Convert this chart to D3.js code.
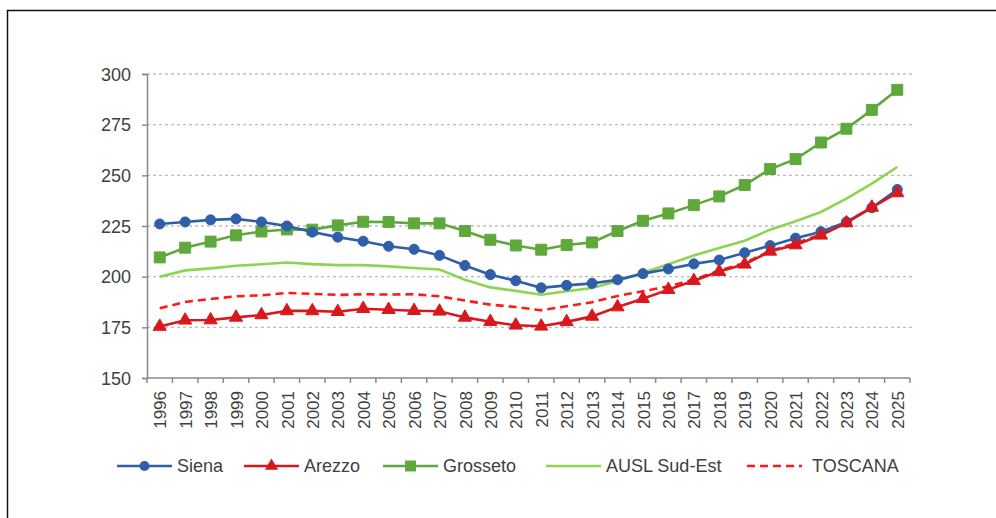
<!DOCTYPE html>
<html>
<head>
<meta charset="utf-8">
<script src="https://cdn.jsdelivr.net/npm/d3@7"></script>
<style>
  body { margin: 0; background: #fff; }
  svg { font-family: "Liberation Sans", Arial, sans-serif; }
</style>
</head>
<body>
<div id="chart"></div>
<script>
const FRAME_WIDTH = 996;
const FRAME_HEIGHT = 518;
const MARGINS = {left: 147, right: 86, top: 74, bottom: 140};

const VIS_WIDTH = FRAME_WIDTH - MARGINS.left - MARGINS.right;
const VIS_HEIGHT = FRAME_HEIGHT - MARGINS.top - MARGINS.bottom;

// data
const years = d3.range(1996, 2026).map(String);
const yTicks = [150, 175, 200, 225, 250, 275, 300];

const siena = [226, 227, 228, 228.5, 227, 225, 222, 219.5, 217.5, 215, 213.5, 210.5, 205.5, 201, 198,
               194.5, 195.7, 196.7, 198.5, 201.5, 203.8, 206.3, 208.2, 211.8, 215.3, 219, 222.2, 227, 234, 243];
const arezzo = [175.4, 178.5, 178.6, 179.9, 181.1, 183.1, 183.1, 182.7, 184.2, 183.7, 183.2, 182.9, 179.9, 177.8, 176,
                175.5, 177.7, 180.4, 185, 189.1, 193.6, 198, 202.5, 206.1, 212.5, 215.6, 220.4, 226.5, 234.2, 241.3];
const grosseto = [209.5, 214.3, 217.3, 220.4, 222.3, 223.3, 223.2, 225.3, 227.1, 227, 226.3, 226.3, 222.5, 218.2, 215.4,
                  213.3, 215.6, 216.9, 222.5, 227.6, 231.2, 235.3, 239.6, 245.2, 253.1, 258, 266.2, 273, 282.3, 292.2];
const auslSudEst = [200, 203.1, 204.1, 205.4, 206.1, 207, 206.2, 205.7, 205.7, 205.1, 204.3, 203.5, 198.5, 194.7, 193,
                    191.1, 192.8, 194.4, 197.9, 201.8, 206.1, 210.4, 214.1, 217.7, 223.2, 227.3, 231.9, 238.5, 245.9, 254.1];
const toscana = [184.4, 187.5, 189, 190.3, 190.8, 192, 191.5, 191, 191.3, 191.2, 191.3, 190.3, 188.2, 186.2, 185,
                 183.4, 185.4, 187.4, 190.5, 192.8, 195.2, 198.6, 203, 206.8, 212.6, 216.5, 220.8, 226.8, 234.3, 241.8];

const series = [
  {name: "Siena", values: siena, color: "#2f5fa8", marker: "circle"},
  {name: "Arezzo", values: arezzo, color: "#d9181e", marker: "triangle"},
  {name: "Grosseto", values: grosseto, color: "#5fa83c", marker: "square"},
  {name: "AUSL Sud-Est", values: auslSudEst, color: "#8fd352", marker: null},
  {name: "TOSCANA", values: toscana, color: "#ff1a1a", marker: null, dash: "8,5"}
];

const svg = d3.select("#chart")
  .append("svg")
    .attr("width", FRAME_WIDTH)
    .attr("height", FRAME_HEIGHT);

// outer frame
svg.append("rect")
  .attr("x", 7.5).attr("y", 10.5)
  .attr("width", 1100).attr("height", 600)
  .attr("fill", "none").attr("stroke", "#111").attr("stroke-width", 1.5);

const xBand = d3.scaleBand().domain(years).range([0, VIS_WIDTH]).padding(0);
const xScale = d3.scalePoint().domain(years).range([0, VIS_WIDTH]).padding(0.5);
const yScale = d3.scaleLinear().domain([150, 300]).range([VIS_HEIGHT, 0]);

const g = svg.append("g")
  .attr("transform", "translate(" + MARGINS.left + "," + MARGINS.top + ")");

// gridlines
g.append("g")
  .selectAll("line")
  .data(yTicks.slice(1))
  .enter()
  .append("line")
    .attr("x1", 0).attr("x2", VIS_WIDTH + 3)
    .attr("y1", d => yScale(d)).attr("y2", d => yScale(d))
    .attr("stroke", "#bdbdbd")
    .attr("stroke-width", 1.3)
    .attr("stroke-dasharray", "3,3");

// y axis
const yAxis = g.append("g")
  .call(d3.axisLeft(yScale).tickValues(yTicks).tickSize(5).tickPadding(11));
yAxis.select(".domain").attr("stroke", "#8a8a8a").attr("stroke-width", 1.5);
yAxis.selectAll(".tick line").attr("stroke", "#8a8a8a").attr("stroke-width", 1.5);
yAxis.selectAll("text").attr("font-size", 18).attr("fill", "#404040").attr("dy", "0.35em");

// x axis (labels under categories, ticks between them)
const xAxis = g.append("g")
  .attr("transform", "translate(0," + VIS_HEIGHT + ")")
  .call(d3.axisBottom(xScale).tickSize(0).tickPadding(0));
xAxis.select(".domain").remove();
xAxis.selectAll("text")
  .attr("font-size", 17)
  .attr("fill", "#404040")
  .attr("transform", "rotate(-90)")
  .attr("x", -13)
  .attr("y", 0)
  .attr("dy", "0.36em")
  .attr("text-anchor", "end");

g.append("line")
  .attr("x1", 0).attr("x2", VIS_WIDTH)
  .attr("y1", VIS_HEIGHT).attr("y2", VIS_HEIGHT)
  .attr("stroke", "#8a8a8a").attr("stroke-width", 1.5);

g.append("g")
  .selectAll("line")
  .data(years.concat(["end"]))
  .enter()
  .append("line")
    .attr("x1", d => d === "end" ? VIS_WIDTH : xBand(d))
    .attr("x2", d => d === "end" ? VIS_WIDTH : xBand(d))
    .attr("y1", VIS_HEIGHT).attr("y2", VIS_HEIGHT + 5)
    .attr("stroke", "#8a8a8a").attr("stroke-width", 1.5);

// lines
const line = d3.line()
  .x((d, i) => xScale(years[i]))
  .y(d => yScale(d));

const symbols = {
  circle: d3.symbol().type(d3.symbolCircle).size(80),
  triangle: d3.symbol().type(d3.symbolTriangle).size(75),
  square: d3.symbol().type(d3.symbolSquare).size(120)
};

// draw order: regional lines under the province lines
const drawOrder = [series[3], series[4], series[2], series[0], series[1]];

drawOrder.forEach(s => {
  g.append("path")
    .datum(s.values)
    .attr("fill", "none")
    .attr("stroke", s.color)
    .attr("stroke-width", 2.6)
    .attr("stroke-dasharray", s.dash || null)
    .attr("d", line);

  if (s.marker) {
    g.append("g")
      .selectAll("path")
      .data(s.values)
      .enter()
      .append("path")
        .attr("d", symbols[s.marker])
        .attr("transform", (d, i) => "translate(" + xScale(years[i]) + "," + yScale(d) + ")")
        .attr("fill", s.color)
        .attr("stroke", s.color)
        .attr("stroke-width", 1);
  }
});

// legend
const legendX = [117, 244, 383, 546, 747];
const legendY = 466;
const legend = svg.append("g");

series.forEach((s, i) => {
  const lg = legend.append("g").attr("transform", "translate(" + legendX[i] + "," + legendY + ")");
  lg.append("line")
    .attr("x1", 0).attr("x2", 55)
    .attr("y1", 0).attr("y2", 0)
    .attr("stroke", s.color)
    .attr("stroke-width", 2.6)
    .attr("stroke-dasharray", s.dash || null);
  if (s.marker) {
    lg.append("path")
      .attr("d", symbols[s.marker])
      .attr("transform", "translate(27.5,0)")
      .attr("fill", s.color);
  }
  lg.append("text")
    .attr("x", i === 4 ? 65 : 60)
    .attr("y", 0)
    .attr("dy", "0.35em")
    .attr("font-size", 18)
    .attr("fill", "#404040")
    .text(s.name);
});
</script>
</body>
</html>
